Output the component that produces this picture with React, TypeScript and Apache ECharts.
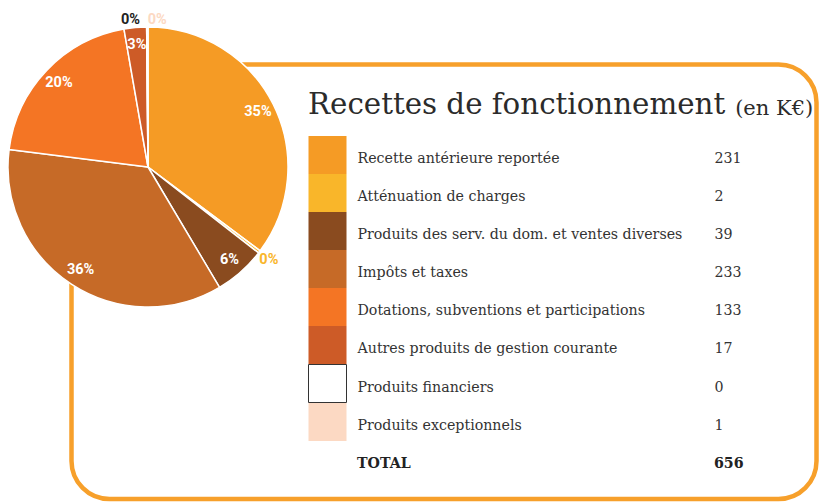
import React, { useEffect, useRef } from "react";
import * as echarts from "echarts";

const categories = [
  "Recette antérieure reportée",
  "Atténuation de charges",
  "Produits des serv. du dom. et ventes diverses",
  "Impôts et taxes",
  "Dotations, subventions et participations",
  "Autres produits de gestion courante",
  "Produits financiers",
  "Produits exceptionnels",
];
const values = [231, 2, 39, 233, 133, 17, 0, 1];
const colors = ["#F59B25", "#F9B62A", "#8A4B1F", "#C66A27", "#F47524", "#CD5B27", "#FFFFFF", "#FCD9C3"];
const outsideLabel = [false, true, false, false, false, false, true, true];
const outsideLabelColors = ["", "#F9B62A", "", "", "", "", "#222222", "#FCD9C3"];
const outsideLabelShiftX = [0, 0, 0, 0, 0, 0, -16, 10];
const outsideLabelShiftY = [0, 0, 0, 0, 0, 0, 4, 4];

const title = "Recettes de fonctionnement";
const unit = "(en K€)";
const totalLabel = "TOTAL";

const SERIF = "'DejaVu Serif', serif";
const SANS = "Roboto, 'Open Sans', sans-serif";

export default function App() {
  const ref = useRef<HTMLDivElement>(null);
  useEffect(() => {
    if (!ref.current) return;
    const chart = echarts.init(ref.current, undefined, { renderer: "svg" });
    const total = values.reduce((a, b) => a + b, 0);
    const pct = (p: any) => `${Math.round(p.percent)}%`;
    const center = [148, 167];
    chart.setOption({
      animation: false,
      backgroundColor: "#fff",
      legend: {
        left: 308,
        top: 136,
        padding: 0,
        orient: "vertical",
        icon: "rect",
        itemWidth: 38,
        itemHeight: 38,
        itemGap: 0,
        selectedMode: false,
        itemStyle: { borderWidth: 0 },
        data: categories.map((c, i) =>
          i === 6 ? { name: c, itemStyle: { borderColor: "#333", borderWidth: 1 } } : { name: c }
        ),
        formatter: (name: string) => {
          const i = categories.indexOf(name);
          return `{n|${name}}{v|${values[i]}}`;
        },
        textStyle: {
          rich: {
            n: { width: 357, padding: [6, 0, 0, 6], fontFamily: SERIF, fontSize: 14.2, color: "#333" },
            v: { padding: [6, 0, 0, 0], fontFamily: SERIF, fontSize: 14.2, color: "#333" },
          },
        },
      },
      graphic: [
        {
          type: "rect",
          z: -10,
          shape: { x: 71.5, y: 64.5, width: 745, height: 434.5, r: 38 },
          style: { fill: "#fff", stroke: "#F7A02B", lineWidth: 4.5 },
          silent: true,
        },
        {
          type: "text",
          x: 308,
          y: 104,
          style: {
            text: `{a|${title}}{b|${unit}}`,
            verticalAlign: "middle",
            rich: {
              a: { fontFamily: SERIF, fontSize: 29.3, fill: "#2b2b2b" },
              b: { fontFamily: SERIF, fontSize: 21, fill: "#2b2b2b", padding: [8, 0, 0, 10] },
            },
          },
        },
        {
          type: "text",
          x: 357,
          y: 463,
          style: { text: totalLabel, fontFamily: SERIF, fontSize: 14.2, fontWeight: "bold", fill: "#222", verticalAlign: "middle" },
        },
        {
          type: "text",
          x: 714,
          y: 463,
          style: { text: String(total), fontFamily: SERIF, fontSize: 14.2, fontWeight: "bold", fill: "#222", verticalAlign: "middle" },
        },
      ],
      series: [
        {
          type: "pie",
          center,
          radius: 140,
          startAngle: 90,
          clockwise: true,
          silent: true,
          label: { show: false },
          labelLine: { show: false },
          itemStyle: { borderColor: "#fff", borderWidth: 1.5 },
          data: categories.map((c, i) => ({ name: c, value: values[i], itemStyle: { color: colors[i] } })),
        },
        {
          type: "pie",
          center,
          radius: [100, 140],
          startAngle: 90,
          clockwise: true,
          silent: true,
          z: 3,
          itemStyle: { color: "rgba(0,0,0,0)", borderWidth: 0 },
          labelLine: { show: false },
          label: {
            position: "inside",
            formatter: pct,
            color: "#fff",
            fontFamily: SANS,
            fontSize: 14.5,
            fontWeight: "bold",
          },
          data: categories.map((c, i) => ({ name: c, value: values[i], label: { show: !outsideLabel[i] } })),
        },
        {
          type: "pie",
          center,
          radius: [140, 158],
          startAngle: 90,
          clockwise: true,
          silent: true,
          z: 3,
          itemStyle: { color: "rgba(0,0,0,0)", borderWidth: 0 },
          labelLine: { show: false },
          label: {
            position: "inside",
            formatter: pct,
            fontFamily: SANS,
            fontSize: 14.5,
            fontWeight: "bold",
          },
          labelLayout: (p: any) => ({
            dx: outsideLabelShiftX[p.dataIndex] || 0,
            dy: outsideLabelShiftY[p.dataIndex] || 0,
          }),
          data: categories.map((c, i) => ({
            name: c,
            value: values[i],
            label: { show: outsideLabel[i], color: outsideLabelColors[i] || "#000" },
          })),
        },
      ],
    });
    return () => chart.dispose();
  }, []);
  return <div ref={ref} style={{ position: "fixed", left: 0, top: 0, width: 820, height: 502 }} />;
}
